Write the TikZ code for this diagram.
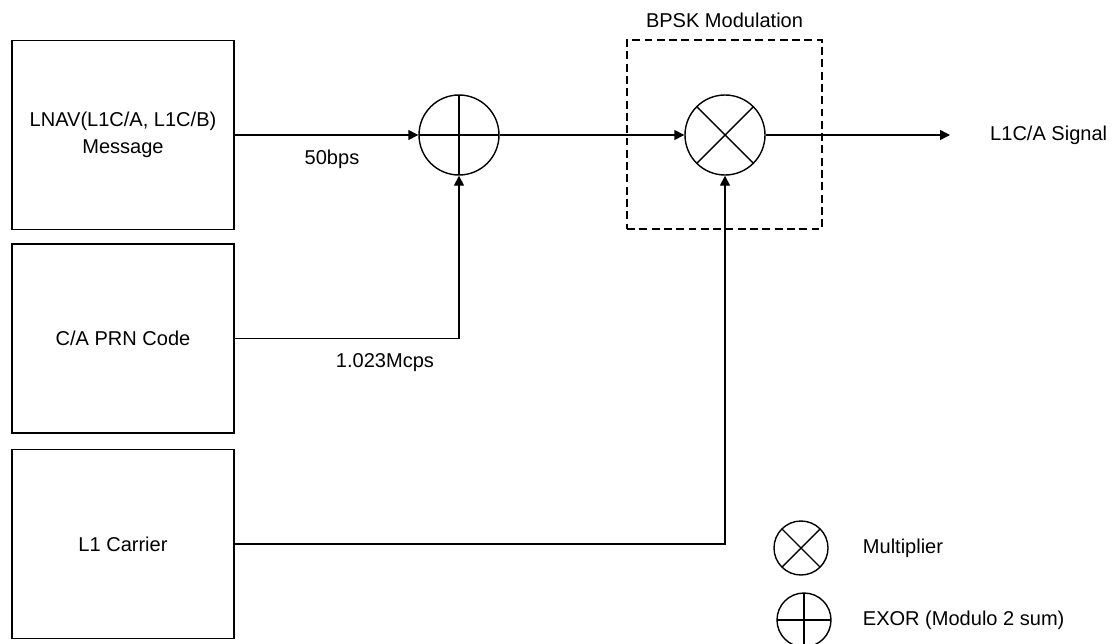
\documentclass[tikz,border=0pt]{standalone}
\usepackage{fontspec}
\setmainfont{Liberation Sans}
\usepackage{tikz}
\usetikzlibrary{arrows.meta, positioning}

\begin{document}
\begin{tikzpicture}[
    every node/.style={font=\fontsize{11.4}{15.4}\selectfont},
    block/.style={draw, line width=0.8pt, minimum width=4.44cm, minimum height=3.78cm, align=center},
    mixer/.style={draw, circle, line width=0.8pt, minimum size=1.6cm, inner sep=0pt},
    multsym/.style={path picture={\draw[line width=0.8pt] (path picture bounding box.north west) -- (path picture bounding box.south east) (path picture bounding box.north east) -- (path picture bounding box.south west);}},
    exorsym/.style={path picture={\draw[line width=0.8pt] (path picture bounding box.north) -- (path picture bounding box.south) (path picture bounding box.west) -- (path picture bounding box.east);}},
    frame/.style={draw, line width=0.8pt, dash pattern=on 4.5pt off 2.5pt, minimum width=3.9cm, minimum height=3.78cm},
    sigline/.style={line width=0.8pt, -{Triangle[length=2mm, width=2mm]}}
]

\useasboundingbox (0,0) rectangle (22.26,12.86);

% Source blocks
\node[block] (nav) at (2.46, 10.16) {LNAV(L1C/A, L1C/B)\\Message};
\node[block] (code) at (2.46, 6.09) {C/A PRN Code};
\node[block] (carrier) at (2.46, 1.98) {L1 Carrier};

% EXOR and multiplier
\node[mixer, exorsym] (exor) at (9.18, 10.16) {};
\node[mixer, multsym] (mult) at (14.5, 10.16) {};

% BPSK modulation frame
\node[frame] (bpsk) at (14.49, 10.17) {};
\node[above=3pt of bpsk] (bpsklabel) {BPSK Modulation};

% Output
\coordinate (out) at (19.0, 10.16);
\node[right=0.68cm of out] (signal) {L1C/A Signal};

% Connectors
\draw[sigline] (nav.east) -- node[pos=0.53, below=5pt] {50bps} (exor.west);
\draw[sigline] (code.east) -| node[pos=0.335, below=5pt] {1.023Mcps} (exor.south);
\draw[sigline] (exor.east) -- (mult.west);
\draw[sigline] (carrier.east) -| (mult.south);
\draw[sigline] (mult.east) -- (out);

% Legend
\node[mixer, multsym, minimum size=1.08cm] (legmult) at (16.02, 1.9) {};
\node[right=0.56cm of legmult] (legmulttext) {Multiplier};
\node[mixer, exorsym, minimum size=1.08cm] (legexor) at (16.08, 0.46) {};
\node[right=0.5cm of legexor] (legexortext) {EXOR (Modulo 2 sum)};

\end{tikzpicture}
\end{document}
